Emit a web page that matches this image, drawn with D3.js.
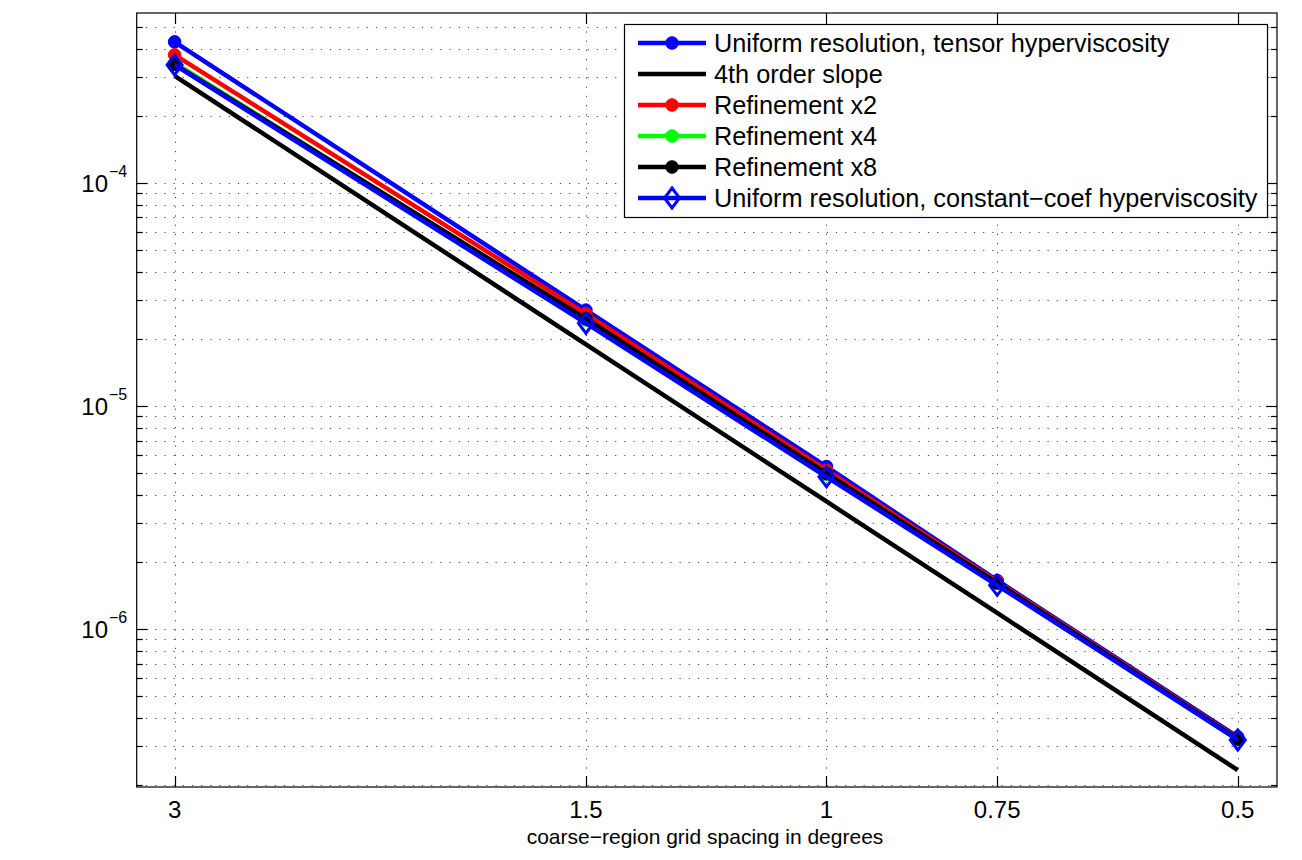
<!DOCTYPE html>
<html>
<head>
<meta charset="utf-8">
<script src="https://cdn.jsdelivr.net/npm/d3@7"></script>
<style>
  html, body { margin: 0; padding: 0; background: #fff; }
  svg { display: block; font-family: "Liberation Sans", Arial, Helvetica, sans-serif; }
</style>
</head>
<body>
<svg id="chart" width="1302" height="860"></svg>
<script>
// ---- data ----
const spacing   = [3, 1.5, 1, 0.75, 0.5];
const xTickVals = [3, 1.5, 1, 0.75, 0.5];
const xTickLabels = ["3", "1.5", "1", "0.75", "0.5"];
const yDecades  = [-6, -5, -4];
const tensor    = [4.29e-4, 2.69e-5, 5.35e-6, 1.65e-6, 3.28e-7];
const slope4    = [3.02e-4, 1.89e-5, 3.73e-6, 1.18e-6, 2.33e-7];
const refine2   = [3.75e-4, 2.59e-5, 5.15e-6, 1.63e-6, 3.23e-7];
const refine4   = [3.45e-4, 2.43e-5, 4.92e-6, 1.60e-6, 3.20e-7];
const refine8   = [3.40e-4, 2.46e-5, 4.98e-6, 1.61e-6, 3.21e-7];
const constCoef = [3.38e-4, 2.35e-5, 4.81e-6, 1.57e-6, 3.18e-7];
const seriesNames = [
  "Uniform resolution, tensor hyperviscosity",
  "4th order slope",
  "Refinement x2",
  "Refinement x4",
  "Refinement x8",
  "Uniform resolution, constant\u2212coef hyperviscosity"
];
const xLabel = "coarse\u2212region grid spacing in degrees";

// ---- layout ----
const L = 136.7, R = 1277, T = 13, B = 787;
const svg = d3.select("#chart");
svg.append("rect").attr("width", 1302).attr("height", 860).attr("fill", "#fff");

const x = d3.scaleLog().domain([3.198, 0.468]).range([L, R]);
const y = d3.scaleLog().domain([1.957e-7, 5.78e-4]).range([B, T]);

// grid values
const yMinor = [];
for (let e = -7; e <= -4; e++) for (let m = 1; m <= 9; m++) {
  const v = m * Math.pow(10, e);
  if (v >= 1.957e-7 && v <= 5.78e-4) yMinor.push(v);
}

const grid = svg.append("g").attr("stroke", "#444").attr("stroke-width", 1)
  .attr("stroke-dasharray", "1.2,8");
grid.selectAll("line.h").data(yMinor).join("line")
  .attr("x1", L).attr("x2", R)
  .attr("y1", d => Math.round(y(d)) + 0.5).attr("y2", d => Math.round(y(d)) + 0.5);
grid.selectAll("line.v").data(xTickVals).join("line")
  .attr("y1", B).attr("y2", T)
  .attr("x1", d => Math.round(x(d)) + 0.5).attr("x2", d => Math.round(x(d)) + 0.5);

// ---- series ----
const series = [
  { vals: tensor,    color: "#0000ff", marker: "circle" },
  { vals: slope4,    color: "#000000", marker: "none" },
  { vals: refine2,   color: "#ff0000", marker: "circle" },
  { vals: refine4,   color: "#00ff00", marker: "circle" },
  { vals: refine8,   color: "#000000", marker: "circle" },
  { vals: constCoef, color: "#0000ff", marker: "diamond" }
];
const lineGen = d3.line().x(d => x(d[0])).y(d => y(d[1]));
const diamondPath = (cx, cy) => `M${cx},${cy-10}L${cx+7.5},${cy}L${cx},${cy+10}L${cx-7.5},${cy}Z`;

function drawMarker(g, mk, color, cx, cy) {
  if (mk === "circle") {
    g.append("circle").attr("cx", cx).attr("cy", cy).attr("r", 6.3)
      .attr("fill", color).attr("stroke", color).attr("stroke-width", 1);
  } else if (mk === "diamond") {
    g.append("path").attr("d", diamondPath(cx, cy))
      .attr("fill", "none").attr("stroke", color).attr("stroke-width", 3)
      .attr("stroke-linejoin", "miter");
  }
}

const plot = svg.append("g");
series.forEach(s => {
  const pts = spacing.map((h, i) => [h, s.vals[i]]);
  const g = plot.append("g");
  g.append("path").attr("d", lineGen(pts)).attr("fill", "none")
    .attr("stroke", s.color).attr("stroke-width", 4.5)
    .attr("stroke-linejoin", "round").attr("stroke-linecap", "butt");
  if (s.marker !== "none") pts.forEach(p => drawMarker(g, s.marker, s.color, x(p[0]), y(p[1])));
});

// ---- axes box and ticks ----
const ax = svg.append("g").attr("stroke", "#000").attr("stroke-width", 1.2).attr("fill", "none");
ax.append("rect").attr("x", L).attr("y", T).attr("width", R - L).attr("height", B - T);
xTickVals.forEach(v => {
  const px = Math.round(x(v)) + 0.5;
  ax.append("line").attr("x1", px).attr("x2", px).attr("y1", B).attr("y2", B - 11);
  ax.append("line").attr("x1", px).attr("x2", px).attr("y1", T).attr("y2", T + 11);
});
yMinor.forEach(v => {
  const py = Math.round(y(v)) + 0.5;
  const major = Math.abs(Math.log10(v) - Math.round(Math.log10(v))) < 1e-9;
  const len = major ? 11 : 6;
  ax.append("line").attr("x1", L).attr("x2", L + len).attr("y1", py).attr("y2", py);
  ax.append("line").attr("x1", R).attr("x2", R - len).attr("y1", py).attr("y2", py);
});

// x tick labels
svg.append("g").selectAll("text").data(xTickVals).join("text")
  .attr("x", d => x(d)).attr("y", 818)
  .attr("text-anchor", "middle").attr("font-size", 24).attr("fill", "#000")
  .text((d, i) => xTickLabels[i]);

// y tick labels: 10^e
const yl = svg.append("g").attr("fill", "#000");
yDecades.forEach(e => {
  const py = y(Math.pow(10, e));
  yl.append("text").attr("x", 108).attr("y", py + 9).attr("text-anchor", "end")
    .attr("font-size", 24).text("10");
  yl.append("text").attr("x", 109).attr("y", py - 6).attr("text-anchor", "start")
    .attr("font-size", 16).text("\u2212" + Math.abs(e));
});

// x label
svg.append("text").attr("x", 705).attr("y", 844).attr("text-anchor", "middle")
  .attr("font-size", 21).attr("fill", "#000").text(xLabel);

// ---- legend ----
const lg = svg.append("g");
lg.append("rect").attr("x", 624.5).attr("y", 24.5).attr("width", 643).attr("height", 193)
  .attr("fill", "#fff").attr("stroke", "#000").attr("stroke-width", 1.2);
const rowY = i => 43 + i * 31;
series.forEach((s, i) => {
  const ry = rowY(i);
  lg.append("line").attr("x1", 638).attr("x2", 706).attr("y1", ry).attr("y2", ry)
    .attr("stroke", s.color).attr("stroke-width", 4.5);
  if (s.marker !== "none") drawMarker(lg, s.marker, s.color, 672, ry);
  lg.append("text").attr("x", 714).attr("y", ry + 9).attr("font-size", 25.3)
    .attr("fill", "#000").text(seriesNames[i]);
});
</script>
</body>
</html>
